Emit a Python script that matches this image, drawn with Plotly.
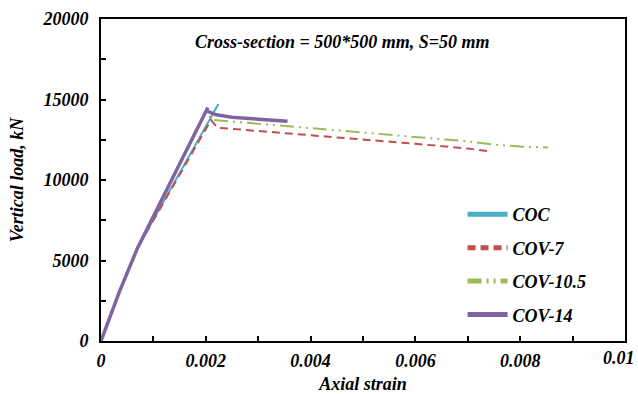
import plotly.graph_objects as go

coc_x = [0, 0.00035, 0.0007, 0.00224]
coc_y = [0, 3050, 5800, 14720]

cov7_x = [0, 0.00035, 0.0007, 0.0021, 0.00222, 0.003, 0.004, 0.005, 0.006, 0.007, 0.00743]
cov7_y = [0, 3050, 5800, 13720, 13250, 13050, 12800, 12520, 12250, 11950, 11780]

cov105_x = [0, 0.00035, 0.0007, 0.0020, 0.00213, 0.003, 0.004, 0.005, 0.006, 0.007, 0.0075, 0.008, 0.00853]
cov105_y = [0, 3050, 5800, 14220, 13730, 13500, 13230, 12950, 12670, 12400, 12200, 12080, 12020]

cov14_x = [0, 0.00035, 0.0007, 0.00204, 0.00201, 0.0022, 0.0025, 0.003, 0.00356]
cov14_y = [0, 3050, 5800, 14500, 14300, 14050, 13900, 13780, 13650]

x_tickvals = [0, 0.002, 0.004, 0.006, 0.008]
x_ticktext = ["0", "0.002", "0.004", "0.006", "0.008"]

font_fam = "Liberation Serif"

fig = go.Figure()
fig.add_trace(go.Scatter(x=coc_x, y=coc_y, mode="lines", name="COC", legendgroup="a",
                         line=dict(color="#4BACC6", width=2)))
fig.add_trace(go.Scatter(x=cov7_x, y=cov7_y, mode="lines", name="COV-7", legendgroup="b",
                         line=dict(color="#C0504D", width=2, dash="8px,5px")))
fig.add_trace(go.Scatter(x=cov105_x, y=cov105_y, mode="lines", name="COV-10.5", legendgroup="c",
                         line=dict(color="#9BBB59", width=2, dash="14px,5px,2px,5px,2px,5px")))
fig.add_trace(go.Scatter(x=cov14_x, y=cov14_y, mode="lines", name="COV-14", legendgroup="d",
                         line=dict(color="#8064A2", width=3.5)))

axis_font = dict(family=font_fam, size=18, color="black", weight="bold", style="italic")

fig.update_layout(
    width=638, height=394,
    margin=dict(l=101, r=13, t=19, b=53, autoexpand=False),
    paper_bgcolor="white", plot_bgcolor="white",
    font=dict(family=font_fam, color="black"),
    showlegend=True,
    legend=dict(x=0.69, y=0.45, xanchor="left", yanchor="top", traceorder="grouped",
                font=dict(family=font_fam, size=18, color="black", weight="bold", style="italic"),
                bgcolor="rgba(0,0,0,0)", tracegroupgap=7, itemwidth=40, itemsizing="constant"),
    annotations=[
        dict(text="Cross-section = 500*500 mm, S=50 mm",
             x=0.461, y=0.929, xref="paper", yref="paper", yanchor="middle", showarrow=False,
             font=dict(family=font_fam, size=18, color="black", weight="bold", style="italic")),
        dict(text="0.01", x=1.0225, y=-0.052, xref="paper", yref="paper", xanchor="right", yanchor="middle",
             showarrow=False, font=axis_font),
    ],
)
fig.update_xaxes(range=[0, 0.01], tickvals=x_tickvals, ticktext=x_ticktext, ticks="inside", ticklen=5, tickwidth=1.5,
                 tickcolor="black", showline=True, linecolor="black", linewidth=2, mirror=True, automargin=False,
                 showgrid=False, zeroline=False, tickfont=axis_font, ticklabelstandoff=2,
                 minor=dict(dtick=0.001, tick0=0, ticks="inside", ticklen=5, tickcolor="black", tickwidth=1.5, showgrid=False),
                 title=dict(text="Axial strain", font=axis_font, standoff=8))
fig.update_yaxes(range=[0, 20000], dtick=5000, tick0=0, ticks="inside", ticklen=5, tickwidth=1.5,
                 tickcolor="black", showline=True, linecolor="black", linewidth=2, mirror=True, automargin=False,
                 showgrid=False, zeroline=False, tickfont=axis_font, tickformat="d", ticklabelstandoff=7,
                 minor=dict(dtick=2500, ticks="inside", ticklen=5, tickcolor="black", tickwidth=1.5, showgrid=False),
                 title=dict(text="Vertical load, kN", font=axis_font, standoff=14))
fig.write_html("out.html")
